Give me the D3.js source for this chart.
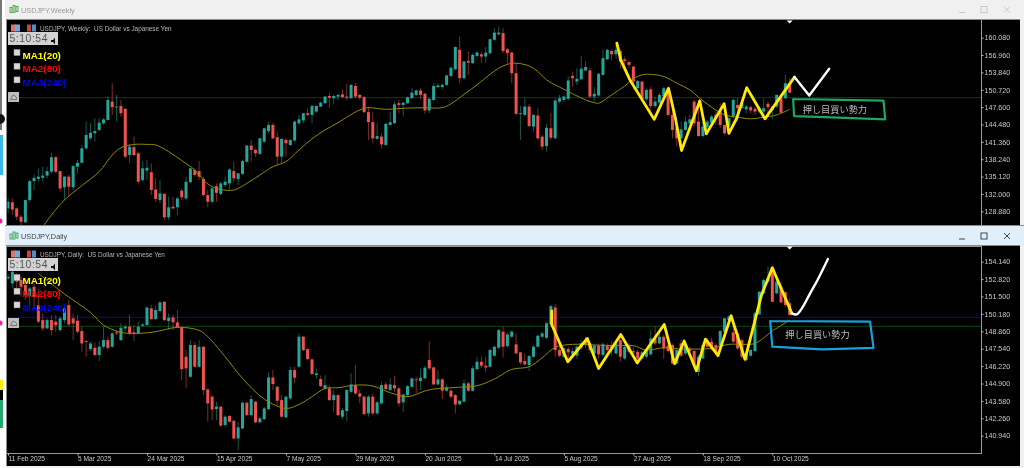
<!DOCTYPE html>
<html><head><meta charset="utf-8">
<script src="https://cdn.jsdelivr.net/npm/d3@7/dist/d3.min.js"></script>
<style>html,body{margin:0;padding:0;background:#fff;overflow:hidden}svg{display:block;filter:blur(0.35px)}</style>
</head><body><svg id="c" width="1024" height="468"></svg>
<script>
const weeklyTicks=[160.08,156.96,153.84,150.72,147.6,144.48,141.36,138.24,135.12,132,128.88];
const dailyTicks=[154.14,152.82,151.5,150.18,148.86,147.54,146.22,144.9,143.58,142.26,140.94];
const dailyTimeBars=[0,16,32,48,64,80,96,112,128,144,160,176];
const dailyTimeLabels=["11 Feb 2025","5 Mar 2025","24 Mar 2025","15 Apr 2025","7 May 2025","29 May 2025","20 Jun 2025","14 Jul 2025","5 Aug 2025","27 Aug 2025","18 Sep 2025","10 Oct 2025"];

const weeklyOpen=[
129.4,130.5,129.4,127.9,126.9,130.9,134.3,134.7,134.9,135.3,
136.0,138.6,136.1,133.2,135.1,133.2,136.9,137.6,140.2,142.0,
142.9,143.5,144.7,145.3,148.6,147.6,147.8,147.3,139.0,140.4,
139.3,134.5,136.2,135.9,132.8,130.9,132.0,127.8,129.7,129.6,
132.6,131.2,134.1,136.3,136.1,134.7,131.8,130.6,133.4,132.0,
133.6,133.9,136.1,134.7,135.6,137.8,140.7,139.9,139.2,141.4,
143.3,144.4,142.2,138.7,141.7,140.8,141.6,144.7,145.2,146.5,
146.2,146.8,147.7,148.3,149.6,149.2,149.5,149.9,149.5,149.2,
151.4,149.8,149.4,146.7,144.9,141.9,142.3,140.8,144.4,144.7,
148.3,148.0,148.3,149.2,149.8,150.6,150.0,147.0,148.9,151.2,
151.2,151.6,153.2,154.4,157.9,152.8,155.9,155.5,156.8,157.1,
156.7,157.3,159.7,160.7,160.9,158.0,157.4,153.7,146.4,146.2,
147.7,144.1,146.1,142.3,140.6,143.8,142.0,148.6,148.9,149.1,
153.2,152.2,152.6,154.2,154.2,149.5,149.7,153.4,156.2,157.7,
157.1,157.7,156.2,155.7,154.9,151.0,152.2,149.0,150.8,147.8,
148.4,149.6,151.0,146.2,144.0,142.0,143.5,144.7,148.6,145.0,
142.4,144.0,144.8,146.2,146.8,144.4,144.2,145.9,148.0,147.4,
147.2,147.6,147.3,146.8,146.8,148.2,147.1,147.7,149.2,149.2,
151.9];
const weeklyClose=[
130.6,129.2,127.9,127.0,130.9,134.3,134.9,135.1,135.3,136.1,
138.6,136.0,133.0,135.1,133.3,137.0,137.6,140.2,142.6,143.0,
143.3,144.8,145.4,148.9,147.6,147.7,146.5,138.7,140.5,139.0,
134.2,136.6,136.7,132.7,131.1,132.1,127.8,129.6,129.4,131.2,
131.4,134.2,136.6,135.4,135.1,131.8,130.6,133.0,132.2,133.9,
134.2,136.4,134.8,135.7,137.9,140.7,139.9,139.3,142.0,143.8,
144.4,142.0,138.7,141.9,141.1,141.7,145.0,145.4,146.5,146.2,
147.8,147.8,148.4,149.5,149.3,149.6,149.8,149.4,149.3,151.6,
149.5,149.3,146.7,144.9,142.0,142.4,140.9,144.6,144.9,148.1,
148.0,148.4,149.4,150.2,150.6,149.8,147.0,149.1,151.4,151.5,
151.6,153.3,154.7,158.4,152.8,155.8,155.6,157.0,157.4,156.7,
157.4,159.8,161.0,161.0,157.7,157.3,153.7,146.4,146.5,147.7,
144.2,146.2,142.0,140.5,143.9,142.1,148.8,149.2,149.5,152.4,
152.8,152.7,154.5,154.8,149.5,150.0,153.6,156.4,157.9,157.1,
157.9,155.8,155.9,155.2,152.2,152.3,149.1,150.7,147.8,148.6,
149.8,151.0,146.2,143.5,142.0,143.6,145.0,145.4,144.7,142.4,
144.1,145.0,145.9,145.6,144.4,142.9,145.6,148.9,147.4,148.3,
147.7,147.0,146.8,147.4,147.4,147.6,147.7,149.8,146.6,151.9,
150.2];
const weeklyHigh=[
131.2,131.2,129.6,128.2,131.0,134.5,135.5,136.6,136.9,136.9,
139.4,138.8,136.2,135.2,135.4,137.2,138.1,140.8,145.0,144.7,
145.6,145.6,145.6,149.5,151.9,149.8,148.9,147.4,141.0,142.3,
139.6,137.9,138.1,137.5,134.8,134.5,132.2,131.5,131.5,131.5,
133.0,135.1,136.7,136.6,137.9,135.1,132.7,133.3,133.9,134.2,
135.1,136.6,137.8,135.8,138.1,140.8,141.7,140.2,142.1,143.9,
145.0,144.8,143.2,142.0,142.0,141.8,145.2,146.2,146.6,147.4,
148.0,148.0,148.6,149.6,150.2,149.8,150.0,150.8,151.8,151.7,
151.9,150.0,149.6,147.7,146.8,144.7,142.9,144.8,146.8,148.6,
148.9,148.6,149.5,151.0,150.8,151.0,150.2,149.2,151.9,151.9,
151.9,153.4,154.9,158.5,160.3,155.9,157.6,157.3,157.7,157.6,
158.4,159.9,161.8,162.0,161.8,158.3,157.6,155.5,147.8,149.2,
148.2,146.4,147.4,142.6,144.6,146.6,149.2,149.8,149.8,153.2,
154.0,154.6,156.8,155.9,154.6,151.2,153.7,158.0,158.1,158.0,
158.8,158.0,156.7,156.0,155.0,152.5,152.3,151.0,151.3,149.5,
150.2,151.3,151.2,148.3,144.1,145.0,145.9,146.2,148.9,148.9,
145.0,145.3,146.2,146.8,148.3,144.4,145.9,149.2,149.2,148.9,
148.0,147.8,147.7,147.6,149.1,148.6,147.8,149.9,149.5,153.4,
152.8];
const weeklyLow=[
128.5,128.2,127.3,126.1,126.7,130.6,132.7,134.2,134.2,134.8,
135.7,135.7,132.4,130.9,131.5,132.7,135.7,137.5,139.9,141.7,
141.4,143.2,144.4,145.2,146.2,145.0,145.9,138.4,137.5,138.8,
133.9,134.2,134.5,131.8,130.6,130.3,127.3,127.3,129.2,128.2,
130.9,130.9,133.9,135.1,134.5,131.5,129.6,130.3,130.6,131.8,
133.3,132.8,134.2,133.6,135.4,137.5,137.8,138.7,139.0,141.2,
142.9,141.8,137.2,137.5,138.7,140.6,141.4,144.4,144.7,146.0,
144.7,146.5,147.6,148.2,147.4,148.2,148.9,149.3,148.8,149.1,
149.2,148.9,146.5,141.7,141.1,141.7,140.2,140.6,144.4,144.6,
146.5,145.9,148.2,149.1,149.6,149.0,146.4,146.5,148.7,151.0,
150.8,151.4,153.0,154.2,151.9,152.6,153.4,155.3,156.5,155.5,
155.6,157.0,159.5,160.4,157.3,155.5,151.9,146.2,141.7,146.0,
144.0,143.2,141.7,139.9,139.6,141.7,141.8,148.3,148.6,148.8,
151.3,151.6,152.5,154.0,149.2,148.6,149.5,153.3,156.1,156.0,
156.4,154.6,155.2,154.6,150.7,150.4,148.7,148.6,146.8,147.4,
148.2,149.4,145.9,142.0,140.5,140.5,143.4,144.4,144.1,142.3,
142.2,142.6,144.4,144.4,143.8,142.6,142.9,145.6,146.2,147.4,
146.5,146.5,146.2,146.5,145.9,146.2,145.4,147.4,146.5,149.0,
150.1];

const dailyOpen=[
152.87,152.49,153.13,152.75,152.37,151.56,152.24,150.85,149.71,149.08,
149.71,149.59,148.95,149.71,150.85,149.84,149.66,148.88,148.12,147.51,
147.61,147.06,147.69,148.19,147.69,148.78,148.19,149.08,149.21,148.78,
148.70,149.28,149.33,150.60,149.79,150.40,151.10,149.64,149.91,149.54,
149.16,146.93,145.41,147.82,146.17,147.69,144.45,143.90,142.96,143.14,
141.75,142.43,142.07,140.73,141.49,143.44,142.50,143.52,141.95,142.20,
142.96,145.36,144.65,143.64,142.33,143.77,145.92,146.17,148.45,147.51,
146.73,145.54,145.24,144.53,144.53,143.64,144.02,142.38,142.81,144.27,
144.78,144.15,143.90,142.63,143.90,142.63,143.39,144.83,144.40,144.78,
144.53,143.47,144.02,144.65,145.21,145.08,145.29,146.68,146.12,144.83,
145.21,144.35,144.35,144.02,143.31,143.52,144.91,144.35,145.99,146.55,
146.25,146.17,147.01,147.61,148.83,147.74,148.45,147.87,147.26,146.60,
146.30,146.93,147.69,148.45,148.37,149.41,150.67,147.44,146.93,147.51,
147.11,147.01,147.61,148.19,147.94,147.18,147.77,147.06,147.77,147.82,
147.18,148.19,146.80,147.77,147.26,147.31,146.80,146.93,147.11,148.32,
147.94,148.45,147.77,147.82,146.42,147.94,147.18,147.56,147.36,145.79,
146.80,148.19,148.07,147.82,147.69,148.83,149.71,148.78,148.70,148.19,
146.68,147.01,147.36,150.14,151.74,152.62,153.63,151.74,152.24,151.81,
150.98];
const dailyClose=[
153.00,153.38,152.62,152.24,151.61,152.11,151.48,149.59,149.08,149.71,
148.95,149.33,149.84,150.60,149.38,149.46,148.83,147.94,148.07,147.94,
147.06,147.69,148.19,147.61,148.70,148.70,149.13,149.21,148.70,148.65,
149.21,149.38,150.65,149.79,150.47,151.05,149.71,149.89,149.54,149.16,
145.99,146.05,147.82,146.17,147.69,144.40,143.39,142.93,143.14,141.70,
142.38,142.00,140.73,141.57,143.44,142.50,143.72,141.95,142.25,143.01,
145.36,144.86,143.59,142.38,143.90,145.92,145.34,148.45,147.44,146.75,
145.62,145.67,144.70,144.78,143.64,144.02,142.50,142.88,144.40,144.83,
144.15,143.90,142.58,143.90,142.63,143.47,144.78,144.48,144.83,144.53,
143.39,144.07,144.70,145.29,145.16,145.34,146.10,146.05,144.83,145.21,
144.35,144.60,143.90,143.31,143.59,144.91,144.35,146.05,146.55,146.25,
146.12,147.44,147.69,148.95,147.69,148.62,148.83,147.18,146.50,146.35,
146.98,147.69,148.52,148.70,149.46,150.77,147.44,147.01,147.56,147.26,
147.36,147.69,147.94,147.82,147.44,147.77,147.11,147.87,147.44,147.51,
147.94,146.93,147.69,147.31,147.36,146.80,147.26,147.36,148.32,147.94,
148.45,147.56,147.36,146.42,147.44,147.01,147.82,147.36,146.30,146.93,
147.82,147.69,147.56,147.31,148.88,149.84,149.97,148.07,147.56,146.93,
147.18,147.44,150.22,151.86,152.75,152.87,151.10,152.62,151.05,150.85,
150.09];
const dailyHigh=[
153.20,153.63,153.25,153.00,152.49,152.24,152.75,152.11,150.22,149.84,
150.09,150.09,149.97,150.85,151.23,150.22,150.09,149.21,148.19,148.07,
148.02,148.12,149.21,148.45,148.78,148.95,149.46,149.38,150.14,149.33,
149.59,149.46,150.77,150.85,150.77,151.15,151.15,150.22,150.14,150.47,
149.21,147.44,148.19,148.07,148.19,147.77,144.53,144.02,143.52,143.19,
142.50,142.50,142.13,142.00,143.52,143.52,144.02,143.59,142.38,143.14,
145.74,145.92,144.73,144.02,143.97,146.17,146.17,148.70,148.52,147.61,
146.80,146.05,145.49,145.54,144.78,144.40,144.07,143.06,144.48,145.67,
146.30,144.40,143.97,144.02,144.15,143.57,145.03,145.03,145.29,145.49,
144.60,144.15,144.78,145.34,145.41,146.05,146.25,148.07,146.17,145.92,
145.29,144.83,144.48,144.10,143.64,145.21,145.03,146.22,146.93,146.93,
146.93,147.56,147.77,149.03,149.21,148.78,148.95,148.70,147.31,147.18,
147.06,147.82,148.62,148.83,149.59,150.85,150.93,147.69,147.69,147.69,
147.56,147.82,148.19,148.45,148.07,147.94,147.94,148.02,147.94,148.07,
148.07,148.70,147.82,147.94,147.69,147.44,147.36,147.51,148.95,149.21,
148.95,148.57,148.07,147.94,147.56,148.19,147.94,147.69,147.44,147.06,
148.02,148.32,148.37,147.94,148.95,149.89,150.09,149.59,148.83,148.32,
147.31,147.51,150.34,151.91,152.87,153.76,153.76,152.75,152.62,151.91,
151.36];
const dailyLow=[
152.75,152.11,151.86,151.48,151.23,150.85,150.60,149.46,148.88,149.03,
148.57,148.83,148.83,149.46,149.21,148.19,148.70,147.31,146.93,147.36,
147.01,146.60,147.56,147.44,147.61,148.57,148.12,148.83,148.57,148.12,
148.62,149.21,149.28,149.71,149.71,150.29,149.64,148.95,148.95,149.08,
145.16,144.53,145.34,146.10,146.10,144.02,142.00,142.13,142.13,141.62,
141.62,141.95,140.68,139.85,141.44,142.45,142.38,141.87,141.87,142.13,
142.88,144.40,143.26,142.30,142.25,143.64,144.91,146.10,147.36,146.68,
145.54,145.29,144.65,144.40,143.59,142.76,142.45,142.20,142.07,144.20,
144.02,143.39,142.50,142.38,142.50,142.50,143.31,144.40,144.35,144.27,
143.14,142.76,143.90,144.58,144.15,144.40,145.24,145.92,144.78,144.78,
143.72,144.27,143.77,142.63,143.26,143.47,144.27,144.27,145.92,146.10,
145.74,146.10,146.93,147.51,146.85,147.61,148.37,147.11,146.35,146.25,
145.84,146.85,147.61,148.32,148.27,149.33,146.93,146.88,146.85,146.80,
146.93,146.75,147.44,147.56,147.18,146.93,146.80,146.93,147.18,147.01,
147.11,146.55,146.68,147.18,146.93,146.68,146.73,146.80,147.01,147.82,
147.87,146.75,147.26,146.35,146.35,146.93,147.06,147.18,146.05,145.49,
146.75,147.51,147.44,147.06,147.51,148.70,149.59,147.94,147.44,146.80,
146.55,146.93,147.26,150.09,151.66,152.49,151.05,151.66,150.98,150.72,
150.04];

const weeklyMaBars=[8,11,13,17,21,24,26,29,32,34,37,40,43,45,47,49,52,55,58,61,64,67,70,73,76,78,81,83,87,91,96,100,102,105,108,111,113,115,117,120,122,124,127,130,133,135,136,139,142,144,146,148,151,154,157,159,162,165,168,171,174,177,180];
const weeklyMaValues=[126.1,129.2,130.9,133.5,136.0,139.0,140.3,140.9,140.9,140.8,139.6,138.0,136.3,134.5,133.3,132.8,132.7,133.9,135.4,136.9,137.8,139.9,141.9,143.5,144.8,145.8,147.1,147.5,147.2,147.4,147.5,147.5,148.2,149.9,151.6,153.5,154.6,155.3,155.5,155.0,154.0,152.5,151.2,150.0,148.9,148.4,148.3,149.8,151.4,152.7,153.4,153.5,153.1,151.9,150.7,149.4,147.6,146.2,145.8,145.5,145.8,146.2,147.2];
const dailyMaBars=[7,13,19,22,26,30,34,39,44,46,50,54,59,64,67,70,73,76,80,84,88,92,96,98,103,108,112,116,120,123,126,130,135,140,144,147,151,155,158,162,166,169,172,176,180];
const dailyMaValues=[153.25,151.69,150.29,149.33,148.78,148.70,148.83,149.16,148.93,148.45,146.93,145.29,143.72,143.01,143.31,143.90,144.53,144.58,144.78,144.71,144.20,143.90,144.33,144.48,144.60,144.73,145.24,145.97,146.17,146.85,147.64,147.87,147.82,147.77,147.77,147.44,147.61,147.51,147.51,147.56,147.87,147.87,147.94,148.88,149.71];

const weeklySketchBars=[140.2,141.1,143.2,148.8,152.1,153.6,155.1,159.3,160.8,164.9,166,167.8,170.1,174.3,181.1];
const weeklySketchPrices=[159.1,156.1,152.5,145.4,151.0,145.9,139.8,148.7,142.8,148.2,142.9,145.6,151.1,145.5,153.0];
const weeklyFutureBars=[181.1,184.5,189.1];
const weeklyFuturePrices=[153.0,149.7,154.5];
const weeklyBoxBars=[180.8,201.6,202,189.7,181,180.8];
const weeklyBoxPrices=[149.06,148.76,145.4,145.77,146.0,149.06];
const dailySketchBars=[125.2,125.2,128.9,133.4,136,141.1,144.9,151.1,153.5,155.7,158.5,160.6,163.5,166.5,169.7,173.5,176,180.5];
const dailySketchPrices=[150.40,149.38,146.55,148.32,146.04,148.62,146.45,149.38,146.40,148.12,145.87,148.27,147.01,150.04,146.73,151.61,153.68,150.22];
const dailyFutureBars=[180.5,181.6,182.8,184.7,186.6,188.8];
const dailyFuturePrices=[150.22,150.14,150.6,151.74,152.87,154.34];
const dailyBoxBars=[175.5,198.5,199.3,187.4,176,175.5];
const dailyBoxPrices=[149.64,149.59,147.61,147.49,147.69,149.64];
const noteText="押し目買い勢力";
const maLabels=["MA1(20)","MA2(80)","MA3(240)"];
const maColors=["#ffff00","#ff0000","#0000ff"];

const svg=d3.select("#c");
const UI="'Liberation Sans',Arial,sans-serif";
svg.append("rect").attr("width",1024).attr("height",468).attr("fill","#f0f0f0");
svg.append("rect").attr("x",0).attr("y",0).attr("width",6).attr("height",468).attr("fill","#fff");
[[0,0,2,130,"#777"],[0,135,3,40,"#39b8ea"],[0,380,3,10,"#ffee00"],[0,390,3,10,"#000"],[0,400,3,28,"#22a86a"]].forEach(d=>svg.append("rect").attr("x",d[0]).attr("y",d[1]).attr("width",d[2]).attr("height",d[3]).attr("fill",d[4]));
svg.append("circle").attr("cx",0).attr("cy",119).attr("r",5).attr("fill","#111");
svg.append("circle").attr("cx",0).attr("cy",221).attr("r",2.5).attr("fill","#f0209a");
svg.append("circle").attr("cx",0).attr("cy",323).attr("r",2.5).attr("fill","#f0209a");

function drawChart(o){
  const g=svg.append("g");
  g.append("rect").attr("x",5).attr("y",o.barTop).attr("width",1019).attr("height",o.barH).attr("fill",o.barFill);
  const ic=g.append("g").attr("transform",`translate(10,${o.barTop+o.barH/2-4})`);
  [[0,2,5],[3,0,7],[6,1,5]].forEach(d=>ic.append("rect").attr("x",d[0]).attr("y",d[1]).attr("width",2).attr("height",d[2]).attr("fill","none").attr("stroke","#3fa34d").attr("stroke-width",.9));
  g.append("text").attr("x",21).attr("y",o.barTop+o.barH/2+3).attr("font-family",UI).attr("font-size",7.3).attr("fill",o.barText).text(o.windowTitle);
  const cy=o.barTop+o.barH/2, cc=o.ctlColor;
  g.append("line").attr("x1",959).attr("x2",965).attr("y1",cy+3).attr("y2",cy+3).attr("stroke",cc).attr("stroke-width",1);
  g.append("rect").attr("x",981).attr("y",cy-3).attr("width",6).attr("height",6).attr("fill","none").attr("stroke",cc).attr("stroke-width",1);
  g.append("path").attr("d",`M1004 ${cy-3}L1010 ${cy+3}M1010 ${cy-3}L1004 ${cy+3}`).attr("stroke",cc).attr("stroke-width",1);
  g.append("rect").attr("x",6).attr("y",o.top-1).attr("width",1014).attr("height",o.bottom-o.top+1).attr("fill","#8a8a8a");
  g.append("rect").attr("x",7).attr("y",o.top).attr("width",1013).attr("height",o.bottom-o.top).attr("fill","#000");
  const x=d3.scaleLinear().domain([0,180]).range([8,789.7]);
  const y=d3.scaleLinear().domain(o.yDomain).range(o.yRange);
  const clipId="clip"+o.id;
  svg.append("defs").append("clipPath").attr("id",clipId).append("rect").attr("x",7.5).attr("y",o.top).attr("width",974).attr("height",o.plotBottom-o.top);
  const plot=g.append("g").attr("clip-path",`url(#${clipId})`);
  o.levels.forEach(l=>plot.append("line").attr("x1",7).attr("x2",982).attr("y1",y(l[0])).attr("y2",y(l[0])).attr("stroke",l[1]).attr("stroke-width",1));
  const bars=d3.range(o.open.length);
  const col=i=>o.close[i]>=o.open[i]?"#26a69a":"#ef5350";
  plot.append("g").selectAll("line").data(bars).join("line")
    .attr("x1",i=>x(i)).attr("x2",i=>x(i)).attr("y1",i=>y(o.high[i])).attr("y2",i=>y(o.low[i]))
    .attr("stroke",i=>col(i)).attr("stroke-width",.75).attr("stroke-opacity",.7);
  plot.append("g").selectAll("rect").data(bars).join("rect")
    .attr("x",i=>x(i)-1.5).attr("width",3)
    .attr("y",i=>Math.min(y(o.open[i]),y(o.close[i])))
    .attr("height",i=>Math.max(.9,Math.abs(y(o.open[i])-y(o.close[i]))))
    .attr("fill",i=>col(i));
  const ln=d3.line().curve(d3.curveCatmullRom);
  plot.append("path").attr("d",ln(o.maBars.map((b,i)=>[x(b),y(o.maValues[i])]))).attr("fill","none").attr("stroke","#8f8a00").attr("stroke-width",1);
  g.append("line").attr("x1",981.5).attr("x2",981.5).attr("y1",o.top).attr("y2",o.plotBottom).attr("stroke","#9a9a9a").attr("stroke-width",1);
  const ax=g.append("g").attr("transform","translate(981.5,0)").call(d3.axisRight(y).tickValues(o.ticks).tickFormat(d3.format(".3f")).tickSize(2).tickPadding(1));
  ax.select(".domain").remove();
  ax.selectAll("line").attr("stroke","#bbb");
  ax.selectAll("text").attr("fill","#c8c8c8").attr("font-family",UI).attr("font-size",7.1);
  if(o.timeBars){
    g.append("line").attr("x1",7).attr("x2",982).attr("y1",o.plotBottom+.5).attr("y2",o.plotBottom+.5).attr("stroke","#9a9a9a");
    const tx=g.append("g").attr("transform",`translate(0,${o.plotBottom+.5})`).call(d3.axisBottom(x).tickValues(o.timeBars).tickFormat((d,i)=>o.timeLabels[i]).tickSize(2).tickPadding(1));
    tx.select(".domain").remove();
    tx.selectAll("line").attr("stroke","#bbb");
    tx.selectAll("text").attr("fill","#c8c8c8").attr("font-family",UI).attr("font-size",6.6).attr("text-anchor","start");
    g.append("line").attr("x1",7).attr("x2",982).attr("y1",o.top+.5).attr("y2",o.top+.5).attr("stroke","#9a9a9a");
  }
  const sk=d3.line();
  const path=(bs,ps,c,w,curve)=>g.append("path").attr("d",(curve?d3.line().curve(d3.curveCatmullRom):sk)(bs.map((b,i)=>[x(b),y(ps[i])]))).attr("fill","none").attr("stroke",c).attr("stroke-width",w).attr("stroke-linejoin","round").attr("stroke-linecap","round");
  path(o.boxBars,o.boxPrices,o.boxColor,2.2);
  g.append("text").attr("x",x(o.noteBar)).attr("y",y(o.notePrice)+3.5).attr("text-anchor","middle").attr("font-family","'Noto Sans CJK JP'").attr("font-size",9.2).attr("fill","#bdbdbd").text(noteText);
  path(o.sketchBars,o.sketchPrices,"#ffe90a",2.8);
  path(o.futureBars,o.futurePrices,"#ffffff",2.4,o.futureCurve);
  g.append("path").attr("d",d3.line()([[x(180)-3,o.top+.5],[x(180)+3,o.top+.5],[x(180),o.top+3.5]])+"Z").attr("fill","#fff");
  const h=o.top;
  [[11,"#d9736e"],[15,"#6fa8dc"]].forEach(d=>g.append("rect").attr("x",d[0]).attr("y",h+4.5).attr("width",5).attr("height",7).attr("fill",d[1]));
  [[27,"#c2453f"],[32,"#4a8fc9"]].forEach(d=>g.append("rect").attr("x",d[0]).attr("y",h+4.5).attr("width",4).attr("height",7).attr("fill",d[1]));
  g.append("text").attr("x",40).attr("y",h+10.5).attr("font-family",UI).attr("font-size",6.4).attr("fill","#b8b8b8").attr("xml:space","preserve").style("white-space","pre").text(o.header);
  g.append("rect").attr("x",8).attr("y",h+12).attr("width",50).attr("height",13).attr("fill","#d2d2d2");
  g.append("text").attr("x",9.5).attr("y",h+22).attr("font-family","'Liberation Sans',sans-serif").attr("font-size",10.4).attr("letter-spacing",.55).attr("fill","#555").text("5:10:54");
  g.append("path").attr("d",`M51 ${h+20}l2 0l2 -2.5l0 7l-2 -2.5l-2 0z`).attr("fill","#111");
  maLabels.forEach((t,i)=>{
    const ty=h+o.legendDy+i*13.7;
    g.append("rect").attr("x",14).attr("y",ty-5.5).attr("width",6).attr("height",6).attr("fill","#d8d8d8").attr("stroke","#999").attr("stroke-width",.5);
    g.append("text").attr("x",22.5).attr("y",ty+3.5).attr("font-family",UI).attr("font-weight","bold").attr("font-size",9.9).attr("fill",maColors[i]).text(t);
  });
  g.append("rect").attr("x",8).attr("y",o.buttonY).attr("width",11).attr("height",10).attr("fill","#bdbdbd");
  g.append("path").attr("d",`M10.5 ${o.buttonY+7.5}l2 -4l2 0l2 2l0 2z`).attr("fill","none").attr("stroke","#666").attr("stroke-width",.8);
}

drawChart({id:"w",windowTitle:"USDJPY,Weekly",header:"USDJPY, Weekly:  US Dollar vs Japanese Yen",barTop:0,barH:19,barFill:"#f0f0f0",barText:"#9a9a9a",ctlColor:"#c8c8c8",
  top:20,bottom:225,plotBottom:226,yDomain:[160.08,128.88],yRange:[37.7,211.3],ticks:weeklyTicks,
  levels:[[149.3,"#0c3f0c"]],open:weeklyOpen,close:weeklyClose,high:weeklyHigh,low:weeklyLow,maBars:weeklyMaBars,maValues:weeklyMaValues,
  sketchBars:weeklySketchBars,sketchPrices:weeklySketchPrices,futureBars:weeklyFutureBars,futurePrices:weeklyFuturePrices,futureCurve:false,
  boxBars:weeklyBoxBars,boxPrices:weeklyBoxPrices,boxColor:"#1fa65f",noteBar:190.4,notePrice:147.1,legendDy:35,buttonY:92});
svg.append("rect").attr("x",5).attr("y",225).attr("width",1019).attr("height",1).attr("fill","#8a8a8a");
drawChart({id:"d",windowTitle:"USDJPY,Daily",header:"USDJPY, Daily:  US Dollar vs Japanese Yen",barTop:226,barH:20,barFill:"#e1effb",barText:"#444",ctlColor:"#444",
  top:246,bottom:466,plotBottom:453,yDomain:[154.14,140.94],yRange:[261.7,435.7],ticks:dailyTicks,
  levels:[[149.92,"#0808a8"],[149.24,"#0d4a12"]],open:dailyOpen,close:dailyClose,high:dailyHigh,low:dailyLow,maBars:dailyMaBars,maValues:dailyMaValues,
  sketchBars:dailySketchBars,sketchPrices:dailySketchPrices,futureBars:dailyFutureBars,futurePrices:dailyFuturePrices,futureCurve:true,
  boxBars:dailyBoxBars,boxPrices:dailyBoxPrices,boxColor:"#18a0dc",noteBar:186.4,notePrice:148.65,legendDy:34,buttonY:318,timeBars:dailyTimeBars,timeLabels:dailyTimeLabels});
</script></body></html>
